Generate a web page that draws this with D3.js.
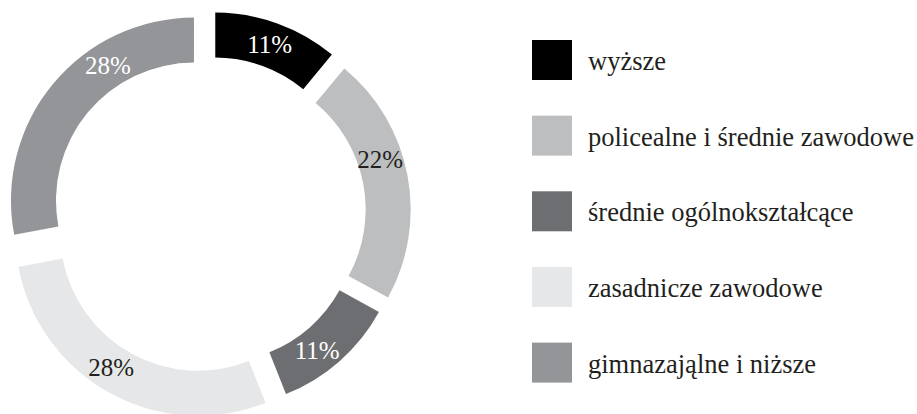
<!DOCTYPE html>
<html lang="pl">
<head>
<meta charset="utf-8">
<script src="https://cdn.jsdelivr.net/npm/d3@7"></script>
<style>
  html, body { margin: 0; padding: 0; background: #fff; }
  svg { display: block; }
  svg text { font-family: "Liberation Serif", "DejaVu Serif", serif; }
</style>
</head>
<body>
<div id="chart"></div>
<script>
const categories = [
  'wyższe',
  'policealne i średnie zawodowe',
  'średnie ogólnokształcące',
  'zasadnicze zawodowe',
  'gimnazająlne i niższe'
]
const shares = [11, 22, 11, 28, 28]
const labels = ['11%', '22%', '11%', '28%', '28%']
const colors = ['#000000', '#bcbec0', '#6d6e71', '#e6e7e8', '#939598']
const labelColors = ['#ffffff', '#231f20', '#ffffff', '#231f20', '#ffffff']

// layout
const SIZE = Object.freeze({ WIDTH: 917, HEIGHT: 414 }),
      PIE = Object.freeze({ CX: 209, CY: 213, OUTER: 183, INNER: 138 }),
      EXPLODE = [18.5, 19, 14.5, 22.5, 19.5],
      LABEL_SHIFT = [0, -7.5, 3.5, 4, 18], // degrees
      LEGEND = Object.freeze({ X: 532, TOP: 40, STEP: 75.65, BOX: 40, TEXT_X: 588 }),
      FONT = '"Liberation Serif", "DejaVu Serif", serif'

const rad = Math.PI / 180

const svg = d3.select('#chart')
  .append('svg')
  .attr('width', SIZE.WIDTH)
  .attr('height', SIZE.HEIGHT)

const color = d3.scaleOrdinal().domain(categories).range(colors)

const pie = d3.pie().sort(null).value(d => d.value)
const arcs = pie(categories.map((c, i) => ({ name: c, value: shares[i], i })))

const arc = d3.arc()
  .innerRadius(PIE.INNER)
  .outerRadius(PIE.OUTER)

const slices = svg.append('g')
  .attr('transform', `translate(${PIE.CX},${PIE.CY})`)
  .selectAll('g')
  .data(arcs)
  .enter()
  .append('g')
  .attr('transform', d => {
    const mid = (d.startAngle + d.endAngle) / 2,
          off = EXPLODE[d.index]
    return `translate(${off * Math.sin(mid)},${-off * Math.cos(mid)})`
  })

slices.append('path')
  .attr('d', arc)
  .attr('fill', d => color(d.data.name))

slices.append('text')
  .attr('transform', d => {
    const mid = (d.startAngle + d.endAngle) / 2 + LABEL_SHIFT[d.index] * rad,
          rr = (PIE.INNER + PIE.OUTER) / 2
    return `translate(${rr * Math.sin(mid)},${-rr * Math.cos(mid)})`
  })
  .attr('text-anchor', 'middle')
  .attr('dy', '0.34em')
  .attr('font-family', FONT)
  .style('font-size', '25px')
  .attr('fill', d => labelColors[d.index])
  .text(d => labels[d.index])

const yLegend = d3.scaleBand()
  .domain(categories)
  .range([LEGEND.TOP, LEGEND.TOP + LEGEND.STEP * categories.length])

const legend = svg.append('g').attr('id', 'legend')

legend.selectAll('rect')
  .data(categories)
  .enter()
  .append('rect')
  .attr('x', LEGEND.X)
  .attr('y', d => yLegend(d))
  .attr('width', LEGEND.BOX)
  .attr('height', LEGEND.BOX)
  .attr('fill', d => color(d))

legend.selectAll('text')
  .data(categories)
  .enter()
  .append('text')
  .attr('x', LEGEND.TEXT_X)
  .attr('y', d => yLegend(d) + LEGEND.BOX / 2 + 10)
  .attr('font-family', FONT)
  .style('font-size', '26.5px')
  .attr('fill', '#231f20')
  .text(d => d)
</script>
</body>
</html>
